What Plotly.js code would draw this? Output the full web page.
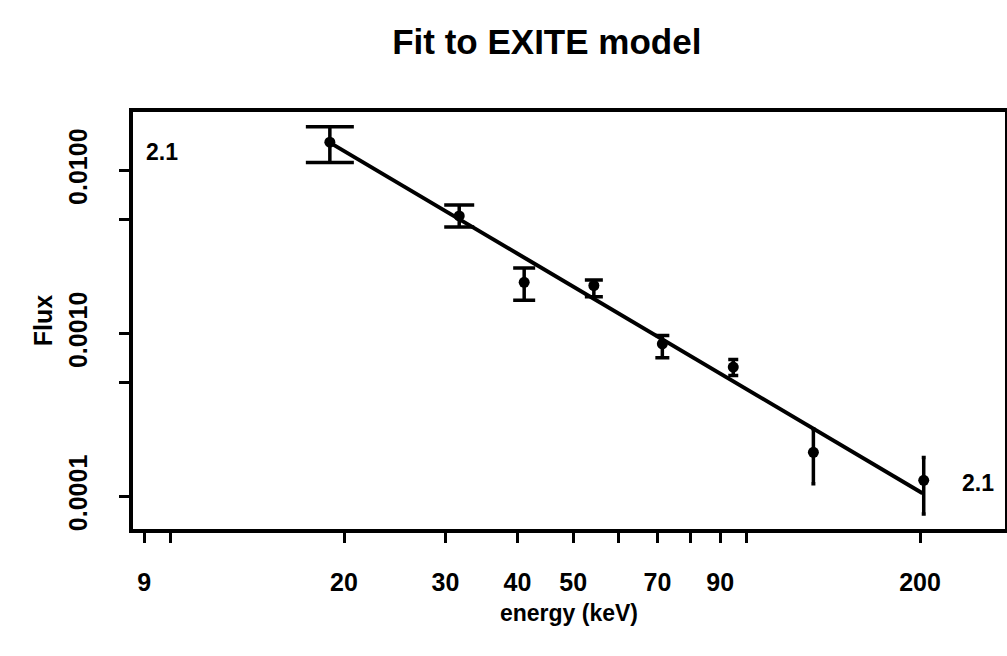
<!DOCTYPE html>
<html>
<head>
<meta charset="utf-8">
<script src="https://cdn.plot.ly/plotly-3.0.1.min.js"></script>
<style>
  html, body { margin: 0; padding: 0; background: #fff; }
  #chart { width: 1007px; height: 656px; }
</style>
</head>
<body>
<div id="chart"></div>
<script>
// ---- data ----
const energy   = [18.9, 31.7, 41.1, 54.3, 71.4, 94.8, 130.6, 203];
const flux     = [0.0149, 0.00526, 0.00206, 0.00197, 0.000865, 0.000623, 0.000187, 0.000126];
const fluxHigh = [0.0185, 0.00614, 0.00252, 0.00213, 0.000973, 0.000693, 0.000260, 0.000174];
const fluxLow  = [0.0112, 0.00450, 0.00160, 0.00168, 0.000710, 0.000553, 0.000120, 0.0000782];
const fitEnergy = [18.9, 202];
const fitFlux   = [0.0148, 0.000105];
const xTickVals = [9, 10, 20, 30, 40, 50, 60, 70, 80, 90, 100, 200];
const xTickText = ['9', '', '20', '30', '40', '50', '', '70', '', '90', '', '200'];
const yTickVals = [0.0001, 0.0005, 0.001, 0.005, 0.01];
const yTickText = ['0.0001', '', '0.0010', '', '0.0100'];
const indexLabel = '2.1';
// ---- styles ----
const capHalfWidths = [24, 15, 11, 9, 7, 5, 2, 2];

const FONT = 'Liberation Sans, Arial, Helvetica, sans-serif';

const traces = [];
traces.push({
  x: fitEnergy, y: fitFlux, type: 'scatter', mode: 'lines',
  line: { color: '#000', width: 4 }, hoverinfo: 'skip', showlegend: false
});
for (let i = 0; i < energy.length; i++) {
  traces.push({
    x: [energy[i]], y: [flux[i]], type: 'scatter', mode: 'markers',
    marker: { color: '#000', size: 11 },
    error_y: {
      type: 'data', symmetric: false,
      array: [fluxHigh[i] - flux[i]],
      arrayminus: [flux[i] - fluxLow[i]],
      color: '#000', thickness: 3.5, width: capHalfWidths[i]
    },
    showlegend: false
  });
}

const axisCommon = {
  type: 'log', showgrid: false, zeroline: false,
  showline: true, linecolor: '#000', linewidth: 4, mirror: true,
  ticks: 'outside', ticklen: 10, tickwidth: 3, tickcolor: '#000',
  tickfont: { family: FONT, size: 25, color: '#000', weight: 700 }
};

const layout = {
  width: 1007, height: 656,
  paper_bgcolor: '#fff', plot_bgcolor: '#fff',
  margin: { l: 133, r: 2, t: 112, b: 127 },
  showlegend: false,
  title: {
    text: 'Fit to EXITE model',
    font: { family: FONT, size: 35, color: '#000', weight: 700 },
    xref: 'container', x: 0.543, xanchor: 'center',
    yref: 'container', y: 0.936, yanchor: 'middle'
  },
  xaxis: Object.assign({}, axisCommon, {
    range: [0.9347, 2.4486],
    tickmode: 'array', tickvals: xTickVals, ticktext: xTickText,
    ticklabelstandoff: 18,
    title: { text: 'energy (keV)', standoff: 11,
             font: { family: FONT, size: 23, color: '#000', weight: 700 } }
  }),
  yaxis: Object.assign({}, axisCommon, {
    range: [-4.198, -1.642],
    tickmode: 'array', tickvals: yTickVals, ticktext: yTickText,
    tickangle: -90, ticklabelstandoff: 22,
    title: { text: 'Flux', standoff: 5,
             font: { family: FONT, size: 25, color: '#000', weight: 700 } }
  }),
  annotations: [
    { text: indexLabel, xref: 'paper', yref: 'paper', x: 0.033, y: 0.905,
      xanchor: 'center', yanchor: 'middle', showarrow: false,
      font: { family: FONT, size: 23, color: '#000', weight: 700 } },
    { text: indexLabel, xref: 'paper', yref: 'paper', x: 0.969, y: 0.111,
      xanchor: 'center', yanchor: 'middle', showarrow: false,
      font: { family: FONT, size: 23, color: '#000', weight: 700 } }
  ]
};

Plotly.newPlot('chart', traces, layout, { displayModeBar: false, staticPlot: true });
</script>
</body>
</html>
